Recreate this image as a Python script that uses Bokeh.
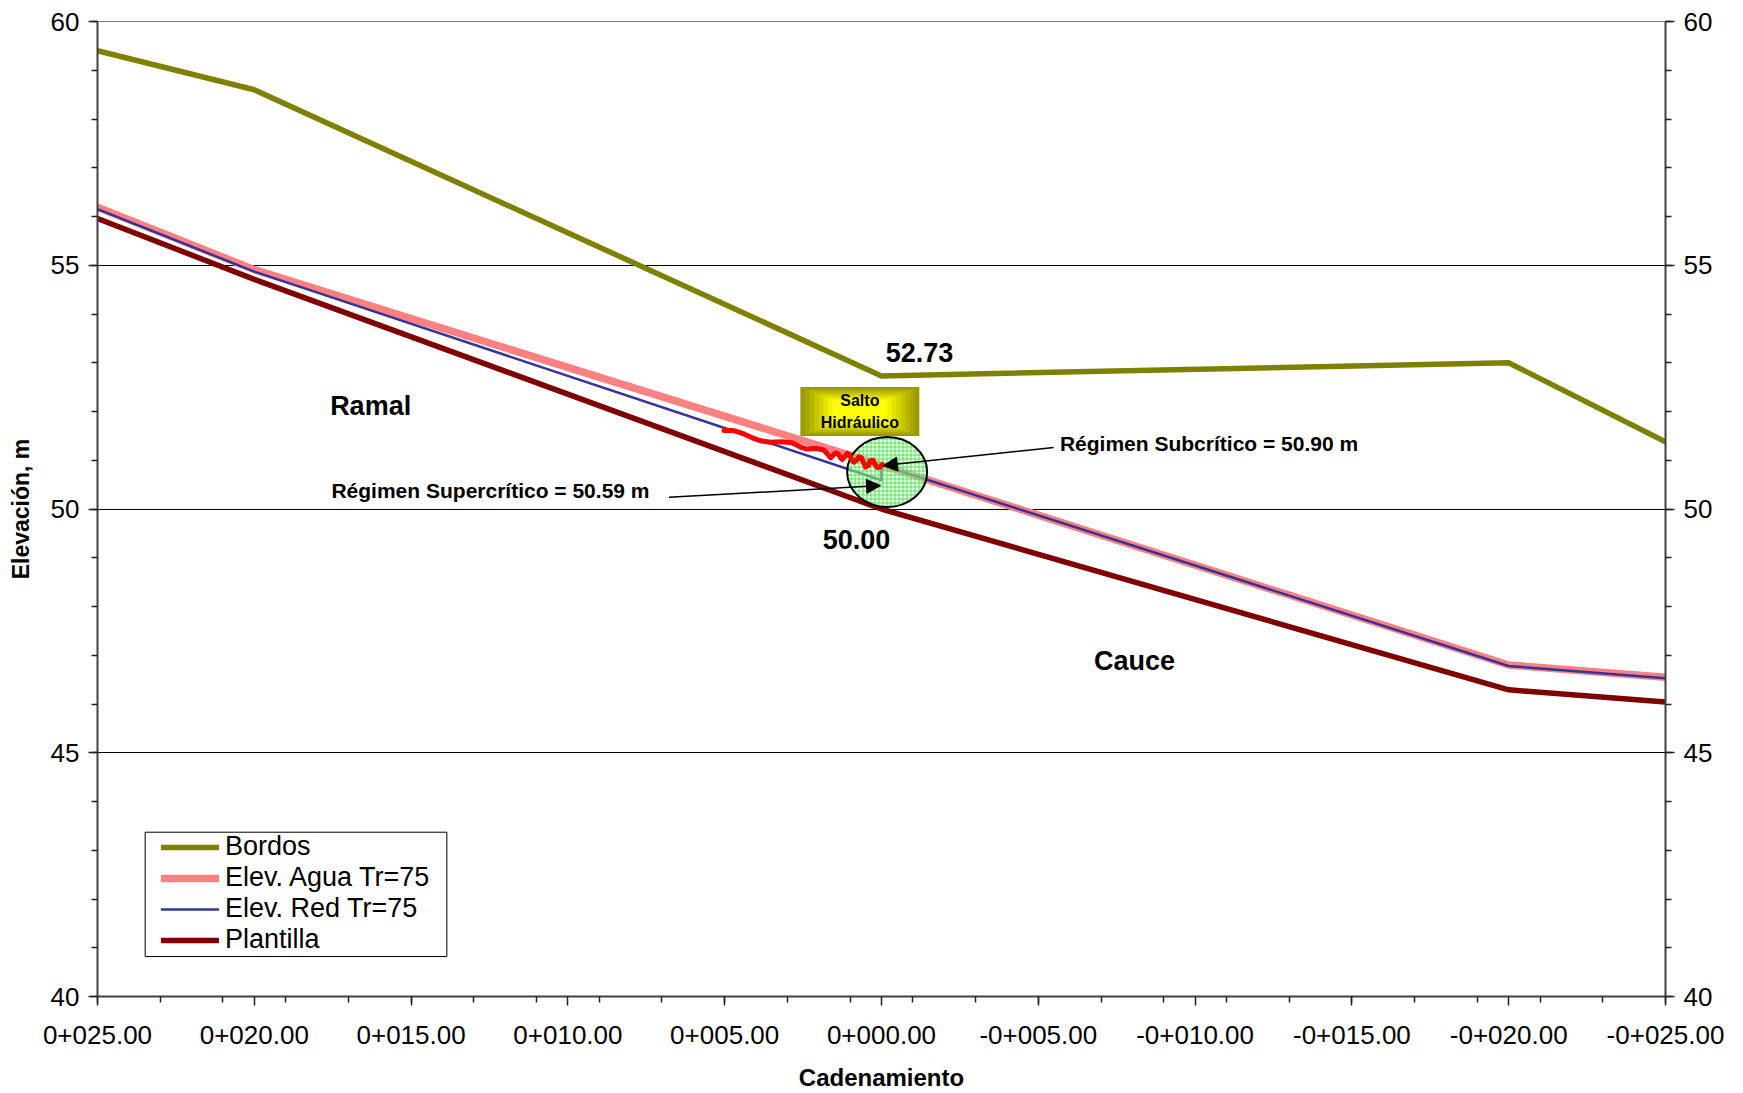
from bokeh.plotting import figure
from bokeh.models import (Range1d, LinearAxis, FixedTicker, Legend, LegendItem,
                          Label, Arrow, NormalHead, BoxAnnotation)
from bokeh.embed import file_html
from bokeh.resources import INLINE

# ---------------- data ----------------
stations = [25, 20, 0, -20, -25]
bordos = [59.40, 58.60, 52.73, 53.00, 51.38]
elev_agua = [56.19, 54.91, 50.90, 46.80, 46.55]
red_stations = [25, 20, 0, 0, -20, -25]
elev_red = [56.15, 54.87, 50.59, 50.90, 46.78, 46.53]
plantilla = [55.96, 54.71, 50.00, 46.29, 46.04]

# hand-drawn hydraulic-jump squiggle
salto_st = [5.02, 4.71, 4.39, 4.12, 3.86, 3.54, 3.17, 2.85, 2.58, 2.37, 2.05, 1.84,
            1.70, 1.62, 1.55, 1.46, 1.38, 1.32, 1.25, 1.17, 1.09, 1.01, 0.96, 0.88,
            0.80, 0.72, 0.64, 0.58, 0.51, 0.42, 0.36, 0.27, 0.21, 0.14, 0.05, -0.02]
salto_el = [51.61, 51.61, 51.54, 51.46, 51.40, 51.37, 51.38, 51.36, 51.27, 51.23, 51.24, 51.21,
            51.11, 51.05, 51.10, 51.15, 51.13, 51.06, 51.02, 51.08, 51.14, 51.11, 51.03, 50.96,
            51.00, 51.07, 51.05, 50.96, 50.86, 50.89, 50.99, 51.00, 50.92, 50.85, 50.86, 50.91]

x_ticks = [25, 20, 15, 10, 5, 0, -5, -10, -15, -20, -25]
x_tick_labels = ["0+025.00", "0+020.00", "0+015.00", "0+010.00", "0+005.00", "0+000.00",
                 "-0+005.00", "-0+010.00", "-0+015.00", "-0+020.00", "-0+025.00"]
x_minor = [25, 23, 21, 19, 17, 15, 13, 11, 9, 7, 5, 3, 1,
           -1, -3, -5, -7, -9, -11, -13, -15, -17, -19, -21, -23, -25]
y_ticks = [40, 45, 50, 55, 60]
y_minor = list(range(40, 61))
y_grid = [45, 50, 55]

FONT = "Liberation Sans"

p = figure(frame_width=1568, frame_height=975, x_range=Range1d(25, -25),
           y_range=Range1d(40, 60), output_backend="svg", toolbar_location=None,
           min_border_left=97, min_border_right=70, min_border_top=21, min_border_bottom=97)
p.background_fill_color = "white"
p.border_fill_color = "white"
p.outline_line_color = "#808080"
p.outline_line_width = 1

# ---------------- axes ----------------
xt = FixedTicker(ticks=x_ticks, minor_ticks=x_minor)
yt = FixedTicker(ticks=y_ticks, minor_ticks=y_minor)

ax = p.xaxis[0]
ax.ticker = xt
ax.major_label_overrides = {t: l for t, l in zip(x_ticks, x_tick_labels)}
ax.axis_label = "Cadenamiento"

ay = p.yaxis[0]
ay.ticker = yt
ay.axis_label = "Elevación, m"

ay2 = LinearAxis(ticker=yt)
p.add_layout(ay2, "right")

for a in [ax, ay, ay2]:
    a.axis_line_color = "#404040"
    a.axis_line_width = 2
    a.major_tick_line_color = "#202020"
    a.minor_tick_line_color = "#202020"
    a.major_tick_line_width = 1.5
    a.minor_tick_line_width = 1.5
    a.major_tick_out = 9
    a.major_tick_in = 0
    a.minor_tick_out = 6
    a.minor_tick_in = 0
    a.major_label_text_font = FONT
    a.major_label_text_font_size = "26px"
    a.major_label_text_color = "black"
    a.major_label_standoff = 9
    a.axis_label_text_font = FONT
    a.axis_label_text_font_style = "bold"
    a.axis_label_text_color = "black"
ax.major_label_standoff = 20
ax.axis_label_text_font_size = "24px"
ax.axis_label_standoff = 17
ay.axis_label_text_font_size = "23px"
ay.axis_label_standoff = 14

p.xgrid.visible = False
p.ygrid.ticker = FixedTicker(ticks=y_grid)
p.ygrid.grid_line_color = "black"
p.ygrid.grid_line_width = 1

# ---------------- series ----------------
r_bordos = p.line(stations, bordos, line_color="#808000", line_width=5.5,
                  line_cap="round", line_join="round")
r_agua = p.line(stations, elev_agua, line_color="#FF8080", line_width=7.5,
                line_cap="round", line_join="round")
r_red = p.line(red_stations, elev_red, line_color="#333399", line_width=2.5,
               line_cap="round", line_join="round")
r_plant = p.line(stations, plantilla, line_color="#800000", line_width=5.5,
                 line_cap="round", line_join="round")

# circle around the jump
p.ellipse(x=[-0.18], y=[50.76], width=[80], height=[70], width_units="screen",
          height_units="screen", fill_color="#d8ffd8", fill_alpha=0.45,
          hatch_pattern="+", hatch_color="#33dd33", hatch_scale=4, hatch_weight=1,
          hatch_alpha=0.8, line_color="black", line_width=2)

# squiggle
p.line(salto_st, salto_el, line_color="#FF0000", line_width=5, line_cap="round",
       line_join="round")

# "Salto Hidráulico" gradient box
n = 12
olive = (0x99, 0x99, 0x00)
yellow = (0xFF, 0xFF, 0x00)
ws, hs, cs = [], [], []
for i in range(n):
    t = i / (n - 1)
    ws.append(119 * (1 - 0.85 * t))
    hs.append(49 * (1 - 0.85 * t))
    c = tuple(int(olive[k] + (yellow[k] - olive[k]) * min(1.0, t * 1.6)) for k in range(3))
    cs.append("#%02x%02x%02x" % c)
p.rect(x=[0.69] * n, y=[52.0] * n, width=ws, height=hs, width_units="screen",
       height_units="screen", fill_color=cs, line_color=None)
for txt, yy in [("Salto", 52.23), ("Hidráulico", 51.78)]:
    p.add_layout(Label(x=0.69, y=yy, text=txt, text_align="center", text_baseline="middle",
                       text_font=FONT, text_font_size="16px", text_font_style="bold",
                       text_color="black"))

# arrows
p.add_layout(Arrow(end=NormalHead(size=14, fill_color="black", line_color="black"),
                   x_start=-5.49, y_start=51.26, x_end=-0.06, y_end=50.89,
                   line_color="black", line_width=1.5))
p.add_layout(Arrow(end=NormalHead(size=14, fill_color="black", line_color="black"),
                   x_start=6.78, y_start=50.24, x_end=0.03, y_end=50.48,
                   line_color="black", line_width=1.5))

# texts
def lab(x, y, text, size, align="center"):
    p.add_layout(Label(x=x, y=y, text=text, text_align=align, text_baseline="middle",
                       text_font=FONT, text_font_size=size, text_font_style="bold",
                       text_color="black"))

lab(-1.21, 53.21, "52.73", "27px")
lab(0.8, 49.38, "50.00", "27px")
lab(16.29, 52.11, "Ramal", "27px")
lab(-8.07, 46.89, "Cauce", "27px")
lab(-5.69, 51.35, "Régimen Subcrítico = 50.90 m", "21px", "left")
lab(17.54, 50.38, "Régimen Supercrítico = 50.59 m", "21px", "left")

# ---------------- legend ----------------
p.add_layout(BoxAnnotation(left=23.48, right=13.86, bottom=40.82, top=43.37,
                           fill_color="white", fill_alpha=1, line_color="black",
                           line_width=1, line_alpha=1))
legend = Legend(items=[LegendItem(label="Bordos", renderers=[r_bordos]),
                       LegendItem(label="Elev. Agua Tr=75", renderers=[r_agua]),
                       LegendItem(label="Elev. Red Tr=75", renderers=[r_red]),
                       LegendItem(label="Plantilla", renderers=[r_plant])],
                location=(64, 41), orientation="vertical")
legend.label_text_font = FONT
legend.label_text_font_size = "27px"
legend.label_text_color = "black"
legend.glyph_width = 58
legend.label_standoff = 6
legend.padding = 0
legend.spacing = 0
legend.label_height = 30
legend.glyph_height = 30
legend.border_line_color = None
legend.background_fill_alpha = 0
legend.margin = 0
p.add_layout(legend, "center")

with open("out.html", "w") as f:
    f.write(file_html(p, INLINE))
